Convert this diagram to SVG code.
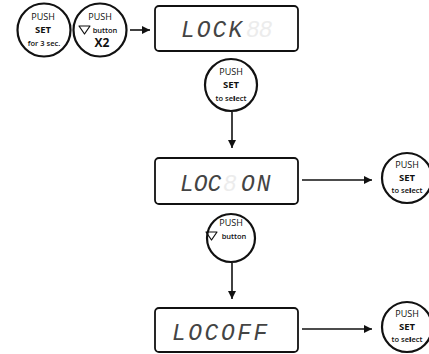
<svg xmlns="http://www.w3.org/2000/svg" width="429" height="354" viewBox="0 0 429 354">
<defs>
<marker id="ah" viewBox="0 0 10 10" refX="10" refY="5" markerWidth="8" markerHeight="8" markerUnits="userSpaceOnUse" orient="auto">
<path d="M0,0 L10,5 L0,10 z" fill="#111"/>
</marker>
<style>
.btn{fill:#fff;stroke:#111;stroke-width:2.2}
.box{fill:#fff;stroke:#111;stroke-width:1.8}
.t{font-family:"Open Sans","Liberation Sans",sans-serif;fill:#111;text-anchor:middle}
.p{font-size:9px}
.s{font-size:9.5px;font-weight:bold}
.sm{font-size:7.5px;font-weight:600}
.lcd{font-family:"Liberation Mono","DejaVu Sans Mono",monospace;font-size:23px;font-style:italic;fill:#444}
.ghost{fill:#ececec}
.ln{stroke:#111;stroke-width:1.6;fill:none}
.tri{fill:none;stroke:#111;stroke-width:1.2;stroke-linejoin:round}
</style>
</defs>
<rect width="429" height="354" fill="#fff"/>
<g id="connectors">
<line class="ln" x1="130" y1="30" x2="150" y2="30" marker-end="url(#ah)"/>
<line class="ln" x1="232" y1="112" x2="232" y2="148" marker-end="url(#ah)"/>
<line class="ln" x1="302" y1="180" x2="372" y2="180" marker-end="url(#ah)"/>
<line class="ln" x1="232" y1="263" x2="232" y2="299" marker-end="url(#ah)"/>
<line class="ln" x1="302" y1="329" x2="372" y2="329" marker-end="url(#ah)"/>
</g>
<g id="btn-set3">
<circle class="btn" cx="44" cy="30" r="26.5"/>
<text class="t p" x="43" y="20">PUSH</text>
<text class="t s" x="43" y="33">SET</text>
<text class="t sm" x="44" y="45.5">for 3 sec.</text>
</g>
<g id="btn-down2">
<circle class="btn" cx="100" cy="30" r="26.5"/>
<text class="t p" x="100" y="20">PUSH</text>
<path class="tri" d="M79,26 L90,26 L84.5,34 z"/>
<text class="t sm" x="105" y="33">button</text>
<text class="t s" x="102" y="46.5" style="font-size:12px">X2</text>
</g>
<g id="lcd-lock">
<rect class="box" x="155" y="6" width="143" height="45" rx="4"/>
<text class="lcd" x="181" y="37" style="letter-spacing:2px">LOCK</text>
<text class="lcd ghost" x="246" y="37" style="letter-spacing:-1px">88</text>
</g>
<g id="btn-select1">
<circle class="btn" cx="231" cy="85" r="26"/>
<text class="t p" x="231" y="75">PUSH</text>
<text class="t s" x="231" y="88">SET</text>
<text class="t sm" x="231" y="100.5">to se<tspan style="font-weight:900">l</tspan>ect</text>
</g>
<g id="lcd-locon">
<rect class="box" x="155" y="158" width="143" height="46" rx="4"/>
<text class="lcd" x="180" y="191">LOC</text>
<text class="lcd ghost" x="223" y="191">8</text>
<text class="lcd" x="241" y="191" style="letter-spacing:2px">ON</text>
</g>
<g id="btn-select2">
<circle class="btn" cx="407" cy="178" r="25"/>
<text class="t p" x="407" y="168">PUSH</text>
<text class="t s" x="407" y="181">SET</text>
<text class="t sm" x="407" y="193">to se<tspan style="font-weight:900">l</tspan>ect</text>
</g>
<g id="btn-down">
<circle class="btn" cx="231" cy="238" r="24"/>
<text class="t p" x="231" y="226">PUSH</text>
<path class="tri" d="M206,232 L217,232 L211.5,240 z"/>
<text class="t sm" x="234" y="239">button</text>
</g>
<g id="lcd-locoff">
<rect class="box" x="155" y="308" width="143" height="44" rx="4"/>
<text class="lcd" x="172" y="340" style="letter-spacing:2.5px">LOCOFF</text>
</g>
<g id="btn-select3">
<circle class="btn" cx="407" cy="327" r="25"/>
<text class="t p" x="407" y="317">PUSH</text>
<text class="t s" x="407" y="330">SET</text>
<text class="t sm" x="407" y="342">to se<tspan style="font-weight:900">l</tspan>ect</text>
</g>
</svg>
